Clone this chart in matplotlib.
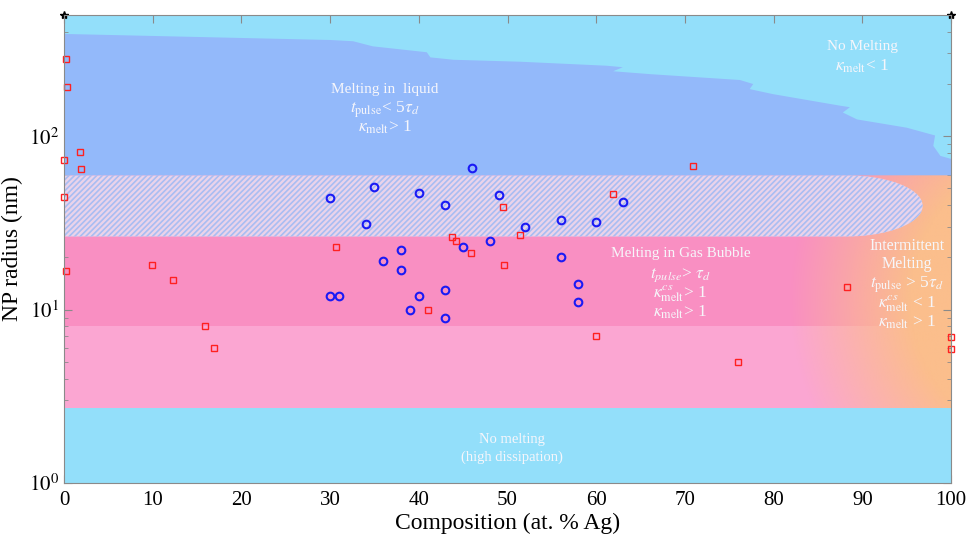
import numpy as np
import matplotlib
matplotlib.use("Agg")
import matplotlib.pyplot as plt
from matplotlib.patches import Polygon

plt.rcParams['font.family'] = ['Liberation Serif', 'DejaVu Serif']
plt.rcParams['mathtext.fontset'] = 'stix'
plt.rcParams['hatch.linewidth'] = 1.2

# region boundaries (NP radius, nm)
r_dissip = 2.7      # top of "no melting (high dissipation)"
r_light = 8.0       # top of light pink band
r_bubble = 26.4     # top of gas bubble band
r_hatch = 59.5      # top of hatched band
hatch_tip = 96.8    # composition where hatched band ends

# upper edge of the "melting in liquid" region
liq_x = [0, 30.0, 32.6, 34.8, 40.9, 41.3, 43.9, 51.4, 61.2, 63.0, 61.9, 66.1,
         76.2, 77.7, 77.3, 79.9, 87.5, 88.6, 87.8, 89.4, 95.0, 98.2, 98.0, 98.8, 100]
liq_y = [389, 359, 353, 330, 305, 285, 276, 269, 255, 250, 237, 228,
         211, 200, 187, 175, 150, 147, 137, 125, 112, 101, 88, 77, 74]

# experimental points
sq_x = [0.2, 0.3, 1.8, 0, 1.9, 0, 0.2, 9.9, 12.3, 15.9, 16.9, 30.7, 41.0, 43.7,
        44.2, 45.9, 49.5, 49.6, 51.4, 61.9, 60.0, 70.9, 76.0, 88.3, 100, 100]
sq_y = [279, 192, 81, 73, 64.5, 44.4, 16.6, 18, 14.9, 8, 6.0, 23.1, 10, 26.1,
        25.0, 21.1, 38.9, 18, 26.8, 46.2, 7.0, 67, 5.0, 13.5, 6.95, 5.93]
circ_x = [46, 35, 30, 40, 43, 49, 63, 34, 52, 56, 60, 48, 45, 38, 36, 38, 56,
          30, 31, 40, 43, 58, 58, 39, 43]
circ_y = [66, 51, 44, 47.3, 40, 46, 42, 31, 30, 33, 32, 25, 23, 22, 19, 17, 20,
          12, 12, 12, 13, 14, 11, 10, 9]

c_cyan = '#93DFFA'
c_liquid = '#93B9FA'
c_bubble = '#F98FC2'
c_light = '#FBA6D2'
c_orange = np.array([251, 190, 140]) / 255.0
txt_c = '#F6F6FA'

fig = plt.figure(figsize=(9.67, 5.37), dpi=100)
ax = fig.add_axes([0.0662, 0.1006, 0.9173, 0.8714])
ax.set_facecolor(c_cyan)

ax.axhspan(r_dissip, r_light, color=c_light, lw=0, zorder=1)
ax.axhspan(r_light, r_hatch, color=c_bubble, lw=0, zorder=1)

# intermittent melting: orange blend on the right
W, H = 887.0, 468.0
u, v = np.meshgrid(np.linspace(0, 1, 400), np.linspace(0, 1, 300))
py = (1 - v) * H
d = np.hypot(u * W - 996, py - 285)
alpha = np.clip((270 - d) / 120, 0, 1) * np.clip((py - 150) / 10, 0, 1)
img = np.zeros(u.shape + (4,))
img[..., :3] = c_orange
img[..., 3] = alpha
ax.imshow(img, extent=(0, 1, 0, 1), transform=ax.transAxes, origin='lower',
          aspect='auto', zorder=1.5, interpolation='bilinear')

# hatched band with rounded right end
ly0, ly1 = np.log10(r_bubble), np.log10(r_hatch)
lc, lb = (ly0 + ly1) / 2, (ly1 - ly0) / 2
cap_a = 8.6
t = np.linspace(np.pi / 2, -np.pi / 2, 60)
cap_x = hatch_tip - cap_a + cap_a * np.cos(t)
cap_y = 10 ** (lc + lb * np.sin(t))
hx = np.concatenate([[0], cap_x, [0]])
hy = np.concatenate([[r_hatch], cap_y, [r_bubble]])
ax.add_patch(Polygon(np.column_stack([hx, hy]), closed=True, facecolor='#EAD3EA',
                     edgecolor='#A9BDF2', hatch='//////', lw=0, zorder=2))

# melting in liquid
bx = liq_x + [100, 0]
by = liq_y + [r_hatch, r_hatch]
ax.add_patch(Polygon(np.column_stack([bx, by]), closed=True, facecolor=c_liquid,
                     edgecolor='none', zorder=2.2))

ax.axhspan(1, r_dissip, color=c_cyan, lw=0, zorder=2.3)

ax.plot(sq_x, sq_y, 's', mfc='none', mec='#FF2020', ms=4, mew=1.0,
        zorder=4, clip_on=False)
ax.plot(circ_x, circ_y, 'o', mfc='none', mec='#1A1AF5', ms=5.5, mew=1.5,
        zorder=4)
ax.plot([0, 100], [500, 500], 'k*', ms=6, clip_on=False, zorder=5)

kw = dict(color=txt_c, ha='center', va='center', zorder=6)
ax.text(36.2, 187, 'Melting in  liquid', fontsize=11, **kw)
ax.text(36.2, 143, r'$t_{\rm pulse}$< 5$\tau_d$', fontsize=12.5, **kw)
ax.text(36.2, 112, r'$\kappa_{\rm melt}$> 1', fontsize=12.5, **kw)

ax.text(90.0, 331, 'No Melting', fontsize=11, **kw)
ax.text(90.0, 254, r'$\kappa_{\rm melt}$< 1', fontsize=12.5, **kw)

ax.text(69.5, 21.2, 'Melting in Gas Bubble', fontsize=11, **kw)
ax.text(69.5, 15.8, r'$t_{pulse}$> $\tau_d$', fontsize=12.5, **kw)
ax.text(69.5, 12.4, r'$\kappa^{cs}_{\rm melt}$> 1', fontsize=12.5, **kw)
ax.text(69.5, 9.6, r'$\kappa_{\rm melt}$> 1', fontsize=12.5, **kw)

ax.text(95.0, 23.4, 'Intermittent', fontsize=11.5, **kw)
ax.text(95.0, 18.4, 'Melting', fontsize=11.5, **kw)
ax.text(95.0, 14.0, r'$t_{\rm pulse}$ > 5$\tau_d$', fontsize=12.5, **kw)
ax.text(95.0, 10.8, r'$\kappa^{cs}_{\rm melt}$ < 1', fontsize=12.5, **kw)
ax.text(95.0, 8.4, r'$\kappa_{\rm melt}$ > 1', fontsize=12.5, **kw)

ax.text(50.5, 1.78, 'No melting', fontsize=10.5, **kw)
ax.text(50.5, 1.40, '(high dissipation)', fontsize=10.5, **kw)

ax.set_yscale('log')
ax.set_xlim(0, 100)
ax.set_ylim(1, 500)
ax.set_xticks(np.arange(0, 101, 10))
ax.set_yticks([1, 10, 100])
ax.set_yticklabels([r'$10^0$', r'$10^1$', r'$10^2$'])
ax.tick_params(which='both', direction='in', top=True, right=True,
               colors='#8A8A8A', labelcolor='black', labelsize=15)
ax.tick_params(which='major', length=6)
ax.tick_params(which='minor', length=3)
ax.tick_params(axis='x', pad=6)
for s in ax.spines.values():
    s.set_color('#8A8A8A')
    s.set_zorder(7)

ax.set_xlabel('Composition (at. % Ag)', fontsize=17, labelpad=2)
ax.set_ylabel('NP radius (nm)', fontsize=17, labelpad=4)

fig.savefig('out.png', dpi=100)
